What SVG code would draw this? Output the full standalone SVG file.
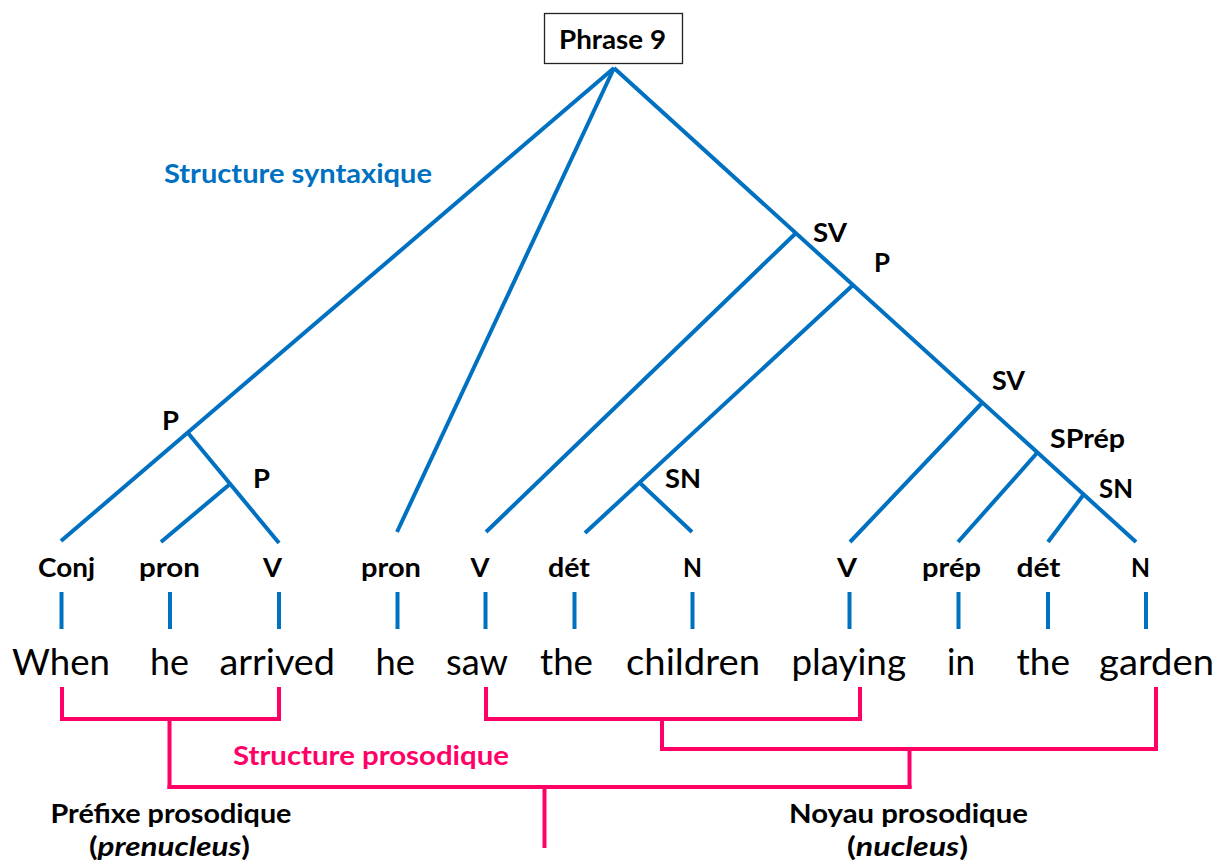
<svg xmlns="http://www.w3.org/2000/svg" width="1219" height="864" viewBox="0 0 1219 864">
  <style>
    .syn { stroke: #0070C0; stroke-width: 4; fill: none; stroke-linecap: butt; }
    .pro { stroke: #FF0066; stroke-width: 4; fill: none; stroke-linecap: square; }
    .lbl { font-family: Lato, "Liberation Sans", sans-serif; font-weight: bold; font-size: 27px; fill: #000; }
    .word { font-family: Lato, "Liberation Sans", sans-serif; font-size: 37px; fill: #000; }
    .blue { fill: #0070C0; }
    .pink { fill: #FF0066; }
  </style>
  <rect width="1219" height="864" fill="#fff"/>

  <!-- root -->
  <g id="root">
    <rect x="544.5" y="13.5" width="138" height="50" fill="#fff" stroke="#222" stroke-width="1.3"/>
    <text class="lbl" x="559" y="48.5" textLength="107" lengthAdjust="spacingAndGlyphs">Phrase 9</text>
  </g>

  <text id="title-syntax" class="lbl blue" x="164" y="182.5" textLength="268" lengthAdjust="spacingAndGlyphs">Structure syntaxique</text>

  <!-- syntactic tree branches -->
  <g id="connectors">
    <line class="syn" x1="614" y1="68" x2="61" y2="541"/>
    <line class="syn" x1="614" y1="68" x2="397" y2="532"/>
    <line class="syn" x1="614" y1="68" x2="1136" y2="542"/>
    <line class="syn" x1="796" y1="233" x2="486" y2="532"/>
    <line class="syn" x1="853" y1="285" x2="585" y2="533"/>
    <line class="syn" x1="640" y1="483" x2="692" y2="532"/>
    <line class="syn" x1="982" y1="403" x2="850" y2="542"/>
    <line class="syn" x1="1037" y1="453" x2="958" y2="542"/>
    <line class="syn" x1="1084" y1="494" x2="1048" y2="542"/>
    <line class="syn" x1="188" y1="433" x2="279" y2="543"/>
    <line class="syn" x1="230" y1="484" x2="161" y2="542"/>
  </g>

  <!-- internal phrase nodes -->
  <g id="node-P1"><text class="lbl" x="162" y="430" textLength="17" lengthAdjust="spacingAndGlyphs">P</text></g>
  <g id="node-P2"><text class="lbl" x="253" y="488" textLength="17" lengthAdjust="spacingAndGlyphs">P</text></g>
  <g id="node-SV1"><text class="lbl" x="813" y="242" textLength="34" lengthAdjust="spacingAndGlyphs">SV</text></g>
  <g id="node-P3"><text class="lbl" x="874" y="272" textLength="16" lengthAdjust="spacingAndGlyphs">P</text></g>
  <g id="node-SN1"><text class="lbl" x="665" y="488" textLength="36" lengthAdjust="spacingAndGlyphs">SN</text></g>
  <g id="node-SV2"><text class="lbl" x="992" y="390" textLength="33" lengthAdjust="spacingAndGlyphs">SV</text></g>
  <g id="node-SPrep"><text class="lbl" x="1050" y="448" textLength="75" lengthAdjust="spacingAndGlyphs">SPrép</text></g>
  <g id="node-SN2"><text class="lbl" x="1099" y="498" textLength="34" lengthAdjust="spacingAndGlyphs">SN</text></g>

  <!-- leaves: category, tick, word -->
  <g id="leaf-when">
    <text class="lbl" x="38" y="577" textLength="57" lengthAdjust="spacingAndGlyphs">Conj</text>
    <line class="syn" x1="61.5" y1="592" x2="61.5" y2="629"/>
    <text class="word" x="12" y="675" textLength="98" lengthAdjust="spacingAndGlyphs">When</text>
  </g>
  <g id="leaf-he1">
    <text class="lbl" x="139" y="577" textLength="61" lengthAdjust="spacingAndGlyphs">pron</text>
    <line class="syn" x1="170" y1="592" x2="170" y2="629"/>
    <text class="word" x="150" y="675" textLength="39" lengthAdjust="spacingAndGlyphs">he</text>
  </g>
  <g id="leaf-arrived">
    <text class="lbl" x="263" y="577" textLength="19" lengthAdjust="spacingAndGlyphs">V</text>
    <line class="syn" x1="279" y1="592" x2="279" y2="629"/>
    <text class="word" x="219.5" y="675" textLength="115.5" lengthAdjust="spacingAndGlyphs">arrived</text>
  </g>
  <g id="leaf-he2">
    <text class="lbl" x="361" y="577" textLength="60" lengthAdjust="spacingAndGlyphs">pron</text>
    <line class="syn" x1="397.5" y1="592" x2="397.5" y2="629"/>
    <text class="word" x="375.6" y="675" textLength="39.4" lengthAdjust="spacingAndGlyphs">he</text>
  </g>
  <g id="leaf-saw">
    <text class="lbl" x="470.5" y="577" textLength="19" lengthAdjust="spacingAndGlyphs">V</text>
    <line class="syn" x1="485.5" y1="592" x2="485.5" y2="629"/>
    <text class="word" x="446" y="675" textLength="62" lengthAdjust="spacingAndGlyphs">saw</text>
  </g>
  <g id="leaf-the1">
    <text class="lbl" x="548" y="577" textLength="42" lengthAdjust="spacingAndGlyphs">dét</text>
    <line class="syn" x1="574.5" y1="592" x2="574.5" y2="629"/>
    <text class="word" x="540" y="675" textLength="53" lengthAdjust="spacingAndGlyphs">the</text>
  </g>
  <g id="leaf-children">
    <text class="lbl" x="683" y="577" textLength="19" lengthAdjust="spacingAndGlyphs">N</text>
    <line class="syn" x1="692.5" y1="592" x2="692.5" y2="629"/>
    <text class="word" x="626" y="675" textLength="134" lengthAdjust="spacingAndGlyphs">children</text>
  </g>
  <g id="leaf-playing">
    <text class="lbl" x="837" y="577" textLength="20" lengthAdjust="spacingAndGlyphs">V</text>
    <line class="syn" x1="849.5" y1="592" x2="849.5" y2="629"/>
    <text class="word" x="791.5" y="675" textLength="114.5" lengthAdjust="spacingAndGlyphs">playing</text>
  </g>
  <g id="leaf-in">
    <text class="lbl" x="922" y="577" textLength="59" lengthAdjust="spacingAndGlyphs">prép</text>
    <line class="syn" x1="958.5" y1="592" x2="958.5" y2="629"/>
    <text class="word" x="947" y="675" textLength="28" lengthAdjust="spacingAndGlyphs">in</text>
  </g>
  <g id="leaf-the2">
    <text class="lbl" x="1016.5" y="577" textLength="44" lengthAdjust="spacingAndGlyphs">dét</text>
    <line class="syn" x1="1048" y1="592" x2="1048" y2="629"/>
    <text class="word" x="1016.5" y="675" textLength="53.5" lengthAdjust="spacingAndGlyphs">the</text>
  </g>
  <g id="leaf-garden">
    <text class="lbl" x="1131" y="577" textLength="19" lengthAdjust="spacingAndGlyphs">N</text>
    <line class="syn" x1="1146" y1="592" x2="1146" y2="629"/>
    <text class="word" x="1099" y="675" textLength="115" lengthAdjust="spacingAndGlyphs">garden</text>
  </g>

  <!-- prosodic structure brackets -->
  <g id="prosody-connectors">
    <polyline class="pro" points="62,689 62,719 279,719 279,689"/>
    <polyline class="pro" points="486,689 486,719 860,719 860,689"/>
    <line class="pro" x1="169.5" y1="719" x2="169.5" y2="787"/>
    <polyline class="pro" points="662,719 662,749 1156,749 1156,689"/>
    <line class="pro" x1="909.5" y1="749" x2="909.5" y2="787"/>
    <line class="pro" x1="169.5" y1="787" x2="909.5" y2="787"/>
    <line class="pro" x1="544.5" y1="787" x2="544.5" y2="846"/>
  </g>

  <text id="title-prosody" class="lbl pink" x="233" y="765" textLength="276" lengthAdjust="spacingAndGlyphs">Structure prosodique</text>

  <g id="prenucleus">
    <text class="lbl" x="50.5" y="823" textLength="241" lengthAdjust="spacingAndGlyphs">Préfixe prosodique</text>
    <text class="lbl" x="89" y="856" textLength="161" lengthAdjust="spacingAndGlyphs">(<tspan font-style="italic">prenucleus</tspan>)</text>
  </g>
  <g id="nucleus">
    <text class="lbl" x="789" y="823" textLength="239" lengthAdjust="spacingAndGlyphs">Noyau prosodique</text>
    <text class="lbl" x="847" y="856" textLength="121" lengthAdjust="spacingAndGlyphs">(<tspan font-style="italic">nucleus</tspan>)</text>
  </g>
</svg>
